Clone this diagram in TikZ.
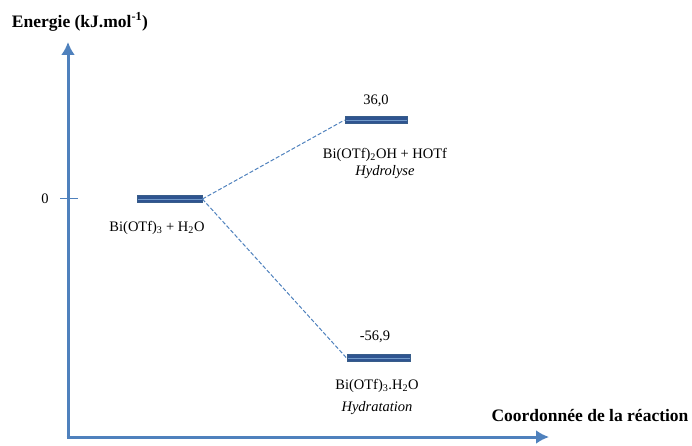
\documentclass[tikz,border=0pt]{standalone}
\usepackage{fontspec}
\setmainfont{Liberation Serif}
\usetikzlibrary{arrows.meta, positioning}
\definecolor{AxisBlue}{HTML}{4F81BD}
\definecolor{LevelBlue}{HTML}{2F5490}
\definecolor{LevelEdge}{HTML}{385D8A}

\begin{document}
\begin{tikzpicture}[x=1pt, y=-1pt,
    level/.style={draw=LevelEdge, fill=LevelBlue, line width=0.8pt, minimum width=64pt, minimum height=7pt, inner sep=0pt,
        path picture={\draw[AxisBlue!80, line width=0.8pt] (path picture bounding box.west) -- (path picture bounding box.east);}},
    link/.style={color=AxisBlue, line width=1pt, dash pattern=on 4pt off 2pt},
    axis/.style={color=AxisBlue, line width=3pt, -{Latex[length=13pt, width=14pt]}},
    lbl/.style={font=\fontsize{14.5}{17}\selectfont, inner sep=0pt},
    title/.style={font=\fontsize{17.5}{20}\selectfont\bfseries, inner sep=0pt}]
    \useasboundingbox (0,0) rectangle (692,446);

    % Axes
    \coordinate (origin) at (68,437);
    \coordinate (ytip) at (68,42);
    \coordinate (xtip) at (549,437);
    \draw[axis] (origin) -- (ytip);
    \draw[axis] ([xshift=-1.5pt]origin) -- (xtip);
    \node[title] (ylabel) at (80,22) {Energie (kJ.mol\textsuperscript{-1})};
    \node[title] (xlabel) at (590,416) {Coordonnée de la réaction};

    % Zero tick
    \coordinate (tickl) at (60,199);
    \coordinate (tickr) at (78,199);
    \draw[color=AxisBlue, line width=1pt] (tickl) -- (tickr);
    \node[lbl] (zero) at (45,199) {0};

    % Energy levels
    \node[level, minimum width=65pt] (start) at (169.5,199) {};
    \node[level, minimum width=62pt] (hydro) at (376,120) {};
    \node[level, minimum width=63pt] (hydra) at (378.5,358) {};

    % Paths
    \draw[link] (start.east) -- (hydro.west);
    \draw[link] (start.east) -- (hydra.west);

    % Labels
    \node[lbl] (startname) at (157,228) {Bi(OTf)\textsubscript{3} + H\textsubscript{2}O};
    \node[lbl] (hydroval) at (376,101) {36,0};
    \node[lbl] (hydroname) at (385,155) {Bi(OTf)\textsubscript{2}OH + HOTf};
    \node[lbl, font=\fontsize{14.5}{17}\selectfont\itshape] (hydrotype) at (385,172) {Hydrolyse};
    \node[lbl] (hydraval) at (375,337) {-56,9};
    \node[lbl] (hydraname) at (377,386) {Bi(OTf)\textsubscript{3}.H\textsubscript{2}O};
    \node[lbl, font=\fontsize{14.5}{17}\selectfont\itshape] (hydratype) at (377,408) {Hydratation};
\end{tikzpicture}
\end{document}
